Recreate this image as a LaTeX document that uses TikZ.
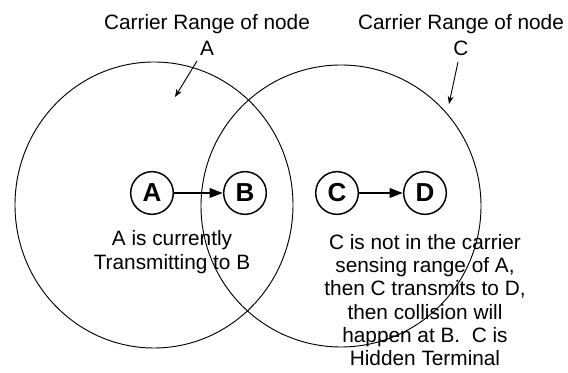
\documentclass[tikz,border=0pt]{standalone}
\usepackage{fontspec}
\setmainfont{Liberation Sans}
\usetikzlibrary{arrows.meta}

\begin{document}
\begin{tikzpicture}[
    x = 0.75pt, y = -0.75pt,
    every node/.style = {font = \fontsize{15.6}{17.5}\selectfont, align = center},
    station/.style = {draw, circle, line width = 1.1pt, minimum size = 32pt,
                      inner sep = 0pt, font = \fontsize{19.5}{19.5}\selectfont\bfseries},
    rangecircle/.style = {line width = 0.7pt},
    pointer/.style = {-{Stealth[length = 6pt, width = 4.5pt]}, line width = 0.7pt},
    link/.style = {-{Triangle[length = 10pt, width = 7pt]}, line width = 2pt},
  ]
  \useasboundingbox (0,0) rectangle (568,373);

  % carrier sensing ranges of A and C
  \draw [rangecircle] (154,205) ellipse [x radius = 139, y radius = 143];
  \draw [rangecircle] (341,206) ellipse [x radius = 140, y radius = 141];

  % stations
  \foreach \name/\x in {A/152, B/245, C/337, D/425} {
    \node [station] (node \name) at (\x,193) {\name};
  }
  \draw [link] (node A) -- (node B);
  \draw [link] (node C) -- (node D);

  % range labels
  \node [font = \fontsize{15.6}{19.5}\selectfont] (range label A) at (207,35)
    {Carrier Range of node\\A};
  \node [font = \fontsize{15.6}{19.5}\selectfont] (range label C) at (461,35)
    {Carrier Range of node\\C};
  \coordinate (range tip A) at (175,97);
  \coordinate (range tip C) at (449,104);
  \draw [pointer] (197,61) -- (range tip A);
  \draw [pointer] (458,62) -- (range tip C);

  % notes
  \node (note A) at (172,252) {A is currently\\Transmitting to B};
  \node (note C) at (425,300) {C is not in the carrier\\sensing range of A,\\
    then C transmits to D,\\then collision will\\happen at B.\ \ C is\\Hidden Terminal};
\end{tikzpicture}
\end{document}
